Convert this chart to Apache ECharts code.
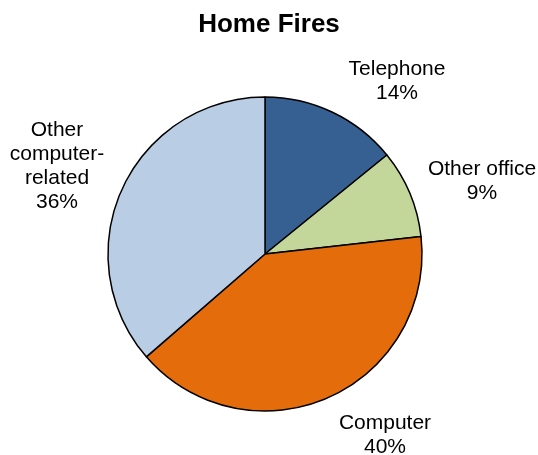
<!DOCTYPE html>
<html>
<head>
<meta charset="utf-8">
<script src="https://cdn.jsdelivr.net/npm/echarts@6/dist/echarts.min.js"></script>
<style>
html,body{margin:0;padding:0;background:#fff;}
#main{width:538px;height:455px;}
</style>
</head>
<body>
<div id="main"></div>
<script>
var categories = ['Telephone', 'Other office', 'Computer', 'Other\ncomputer-\nrelated'];
var values = [14, 9, 40, 36];
var colors = ['#366092', '#c4d79b', '#e46c0a', '#b9cde5'];
var labelPos = [[397, 81], [482, 181], [385, 435], [57, 166]];

var chart = echarts.init(document.getElementById('main'));
var data = categories.map(function (c, i) {
  return { name: c, value: values[i], itemStyle: { color: colors[i] } };
});
chart.setOption({
  animation: false,
  title: {
    text: 'Home Fires',
    left: 'center',
    top: 7,
    textStyle: { fontFamily: 'Liberation Sans, Arial', fontWeight: 'bold', fontSize: 26, color: '#000' }
  },
  series: [{
    type: 'pie',
    center: [265, 254],
    radius: 157,
    startAngle: 90,
    clockwise: true,
    itemStyle: { borderColor: '#000', borderWidth: 1.5 },
    emphasis: { disabled: true },
    label: {
      show: true,
      position: 'outside',
      formatter: function (p) { return p.name + '\n' + p.value + '%'; },
      fontFamily: 'Liberation Sans, Arial',
      fontSize: 21,
      lineHeight: 24,
      color: '#000',
      align: 'center',
      overflow: 'none',
      width: 200
    },
    labelLine: { show: false },
    labelLayout: function (p) {
      var pos = labelPos[p.dataIndex];
      return { x: pos[0], y: pos[1], align: 'center', verticalAlign: 'middle' };
    },
    data: data
  }]
});
</script>
</body>
</html>
